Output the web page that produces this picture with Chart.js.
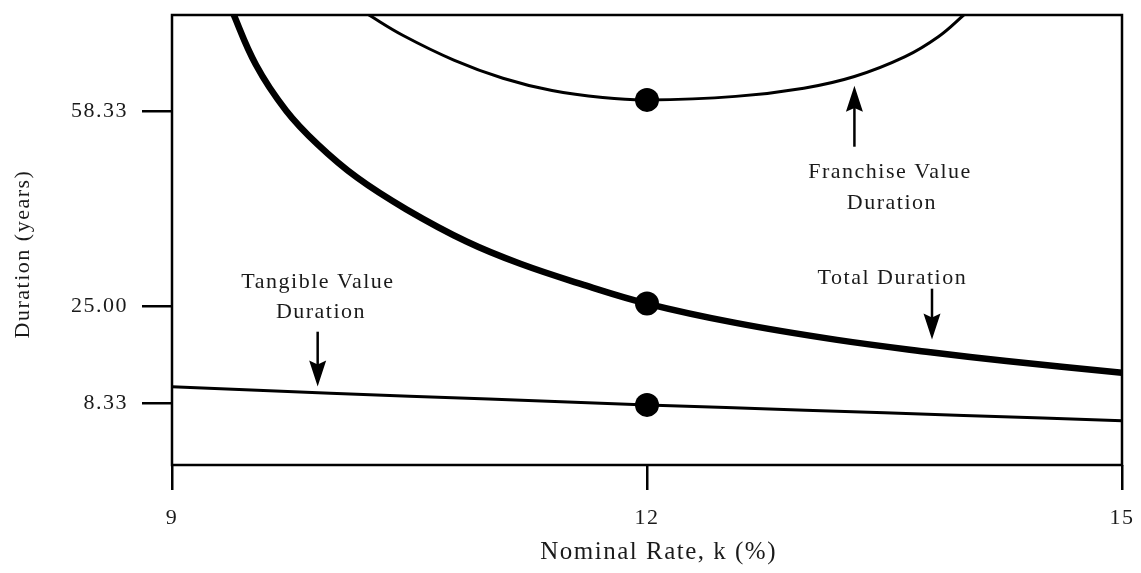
<!DOCTYPE html>
<html><head><meta charset="utf-8">
<script src="https://cdn.jsdelivr.net/npm/chart.js@4.4.0/dist/chart.umd.min.js"></script>
<style>html,body{margin:0;padding:0;background:#fff}#wrap{width:1141px;height:573px;position:relative}</style>
</head><body><div id="wrap"><canvas id="c"></canvas></div>
<script>
// ---- data ----
const totalK   = [9.37, 9.53, 9.72, 9.92, 10.17, 10.48, 10.86, 11.2, 11.6, 12.0, 12.56, 13.2, 13.79, 14.27, 15.0];
const totalVal = [76.0, 66.2, 58.4, 52.6, 46.9, 41.5, 36.0, 32.2, 28.6, 25.4, 22.1, 19.2, 17.1, 15.6, 13.6];

const franK    = [10.15, 10.244, 10.46, 10.78, 11.09, 11.4, 11.72, 12.0, 12.56, 12.99, 13.31, 13.63, 13.84, 14.0, 14.08];
const franVal  = [76.3, 74.7, 71.2, 67.0, 63.9, 61.8, 60.6, 60.2, 60.8, 62.2, 64.2, 67.6, 71.0, 74.7, 76.7];

const tanK     = [9, 10, 11, 12, 13, 14, 15];
const tanVal   = [11.2, 10.1, 9.1, 8.1, 7.2, 6.3, 5.4];

const dotK     = [12, 12, 12];
const dotVal   = [60.2, 25.4, 8.1];

const xTickVals   = [9, 12, 15];
const xTickLabels = ['9', '12', '15'];
const yTickVals   = [8.33, 25, 58.33];
const yTickLabels = ['8.33', '25.00', '58.33'];

const xTitle = 'Nominal Rate, k (%)';
const yTitle = 'Duration (years)';

// annotation texts and anchors (data units)
const noteText = ['Franchise Value', 'Duration', 'Total Duration', 'Tangible Value', 'Duration'];
const noteK    = [13.535, 13.547, 13.55, 9.922, 9.941];
const noteV    = [47.9, 42.6, 29.8, 28.97, 23.85];
const arrowK     = [13.31, 13.80, 9.92];
const arrowFromV = [52.2, 27.95, 20.6];
const arrowToV   = [62.6, 19.25, 11.23];

const pts = (ks, vs) => ks.map((k, i) => ({x: k, y: vs[i]}));
const FONT = '"Liberation Serif", "Times New Roman", serif';
const INK = '#1a1a1a';

const spacing = {
  id: 'spacing',
  beforeDraw(c) { c.ctx.letterSpacing = '1.5px'; },
  afterDraw(c) { c.ctx.letterSpacing = '0px'; }
};

const frameAndNotes = {
  id: 'frameAndNotes',
  afterDatasetsDraw(chart) {
    const {ctx, chartArea: a, scales: {x, y}} = chart;
    ctx.save();
    ctx.strokeStyle = '#000';
    ctx.lineWidth = 2.5;
    ctx.strokeRect(a.left, a.top, a.right - a.left, a.bottom - a.top);

    ctx.fillStyle = INK;
    ctx.font = '22px ' + FONT;
    ctx.textAlign = 'center';
    ctx.textBaseline = 'middle';
    ctx.letterSpacing = '1.5px';
    noteText.forEach((t, i) => ctx.fillText(t, x.getPixelForValue(noteK[i]), y.getPixelForValue(noteV[i])));

    ctx.fillStyle = '#000';
    arrowK.forEach((k, i) => {
      const px = x.getPixelForValue(k);
      const y0 = y.getPixelForValue(arrowFromV[i]);
      const y1 = y.getPixelForValue(arrowToV[i]);
      const dir = Math.sign(y1 - y0);
      const head = 26, hw = 8.5;
      ctx.beginPath();
      ctx.moveTo(px, y0);
      ctx.lineTo(px, y1 - dir * head * 0.8);
      ctx.stroke();
      ctx.beginPath();
      ctx.moveTo(px, y1);
      ctx.lineTo(px - hw, y1 - dir * head);
      ctx.lineTo(px, y1 - dir * head * 0.85);
      ctx.lineTo(px + hw, y1 - dir * head);
      ctx.closePath();
      ctx.fill();
    });
    ctx.restore();
  }
};

new Chart(document.getElementById('c'), {
  type: 'line',
  data: {
    datasets: [
      {label: 'Total Duration', data: pts(totalK, totalVal), borderColor: '#000', borderWidth: 6.5,
       pointRadius: 0, tension: 0.4, clip: 1},
      {label: 'Franchise Value Duration', data: pts(franK, franVal), borderColor: '#000', borderWidth: 3,
       pointRadius: 0, tension: 0.4, clip: 1},
      {label: 'Tangible Value Duration', data: pts(tanK, tanVal), borderColor: '#000', borderWidth: 3,
       pointRadius: 0, tension: 0.4, clip: 1},
      {label: 'k = 12', data: pts(dotK, dotVal), showLine: false, pointRadius: 12,
       pointBackgroundColor: '#000', pointBorderColor: '#000', pointBorderWidth: 0}
    ]
  },
  options: {
    responsive: true,
    maintainAspectRatio: false,
    animation: false,
    events: [],
    layout: {padding: {top: 15, right: 19, bottom: 0, left: 0}},
    plugins: {legend: {display: false}, tooltip: {enabled: false}},
    scales: {
      x: {
        type: 'linear', min: 9, max: 15,
        afterBuildTicks: s => { s.ticks = xTickVals.map(v => ({value: v})); },
        afterFit: s => { s.height = 108; s.paddingLeft = 0; s.paddingRight = 0; },
        ticks: {autoSkip: false, maxRotation: 0, padding: 15, color: INK,
                font: {family: FONT, size: 22},
                callback: (v, i) => xTickLabels[i]},
        grid: {drawOnChartArea: false, tickLength: 25, tickWidth: 2.5, tickColor: '#000', color: '#000', lineWidth: 2.5},
        border: {display: false},
        title: {display: true, text: '   ' + xTitle, color: INK, font: {family: FONT, size: 25},
                padding: {top: 0, bottom: 6}}
      },
      y: {
        type: 'linear', min: -2.17, max: 74.7,
        afterBuildTicks: s => { s.ticks = yTickVals.map(v => ({value: v})); },
        afterFit: s => { s.width = 172; s.paddingTop = 0; s.paddingBottom = 0; },
        ticks: {autoSkip: false, padding: 14, color: INK,
                font: {family: FONT, size: 22},
                callback: (v, i) => yTickLabels[i]},
        grid: {drawOnChartArea: false, tickLength: 30, tickWidth: 2.5, tickColor: '#000', color: '#000', lineWidth: 2.5},
        border: {display: false},
        title: {display: true, text: yTitle + '    ', color: INK, font: {family: FONT, size: 22},
                padding: {top: 10, bottom: 0}}
      }
    }
  },
  plugins: [spacing, frameAndNotes]
});
</script>
</body></html>
